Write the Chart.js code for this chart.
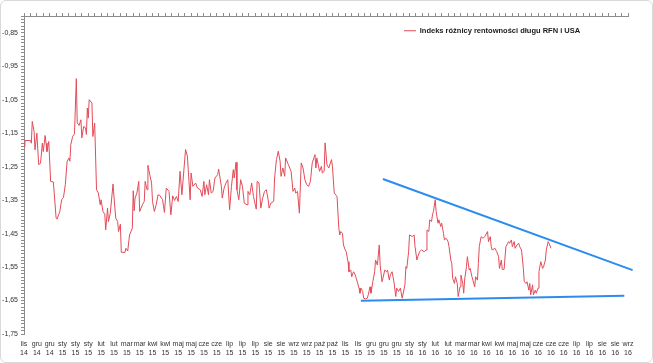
<!DOCTYPE html>
<html>
<head>
<meta charset="utf-8">
<script src="https://cdn.jsdelivr.net/npm/chart.js@4.4.1/dist/chart.umd.min.js"></script>
<style>
  html, body { margin: 0; padding: 0; background: #fff; }
  #wrap { position: relative; width: 653px; height: 363px; }
  #frame { position: absolute; left: 0; top: 0; width: 651px; height: 361px; border: 1px solid #d9d9d9; border-radius: 6px; pointer-events: none; }
</style>
</head>
<body>
<div id="wrap">
  <canvas id="chart" width="653" height="363"></canvas>
  <div id="frame"></div>
</div>
<script>
// x = days since 20 Nov 2014, y = index value
const days = [0,1,7,8,9,11,12,14,16,18,20,21,23,24,25,27,29,32,35,36,39,41,43,45,47,49,50,51,53,55,57,58,60,62,63,65,67,68,69,70,71,74,75,77,79,81,83,84,86,88,89,91,92,94,97,99,100,102,103,105,106,110,111,113,115,118,119,120,121,123,125,126,129,131,132,134,135,137,139,140,142,144,146,148,151,153,155,158,160,162,164,166,168,170,172,176,178,181,182,184,187,189,192,194,196,197,199,201,202,204,206,208,211,212,213,215,216,218,220,222,224,226,228,229,231,232,234,236,238,240,243,244,246,248,250,253,254,256,258,260,262,264,266,267,269,272,273,275,277,279,280,282,284,285,288,291,293,295,296,298,300,302,304,306,308,310,312,314,317,318,319,322,324,325,327,328,330,332,335,336,338,341,343,344,345,347,348,350,351,353,354,356,357,359,361,362,365,366,367,369,370,372,374,375,377,378,380,382,383,385,387,388,390,391,393,395,396,398,399,401,403,405,406,408,410,412,415,416,417,419,420,423,425,426,428,429,431,433,436,438,439,441,442,444,445,446,448,449,451,452,454,455,457,458,460,462,463,465,466,467,469,470,472,473,475,476,478,479,480,482,483,485,486,488,489,491,492,494,495,496,498,500,502,505,506,508,509,510,513,515,517,518,520,521,523,525,526,528,529,531,532,534,535,537,539,540,542,544,545,547,548,550,551,552,554,555,557,558,560,561,563,565,566,568,569,571,572,574];
const values = [-1.190,-1.172,-1.172,-1.180,-1.115,-1.145,-1.200,-1.150,-1.244,-1.240,-1.180,-1.205,-1.157,-1.180,-1.205,-1.175,-1.294,-1.296,-1.404,-1.407,-1.384,-1.349,-1.342,-1.304,-1.234,-1.224,-1.234,-1.184,-1.160,-1.152,-0.987,-1.119,-1.127,-1.110,-1.164,-1.130,-1.134,-1.154,-1.075,-1.105,-1.050,-1.060,-1.160,-1.120,-1.319,-1.329,-1.364,-1.349,-1.384,-1.392,-1.439,-1.374,-1.414,-1.389,-1.302,-1.374,-1.404,-1.414,-1.444,-1.422,-1.506,-1.506,-1.494,-1.502,-1.454,-1.434,-1.322,-1.382,-1.344,-1.329,-1.294,-1.384,-1.364,-1.354,-1.294,-1.319,-1.246,-1.274,-1.299,-1.354,-1.384,-1.364,-1.334,-1.336,-1.349,-1.387,-1.314,-1.324,-1.394,-1.337,-1.351,-1.339,-1.354,-1.264,-1.334,-1.199,-1.219,-1.349,-1.269,-1.309,-1.299,-1.314,-1.319,-1.339,-1.294,-1.334,-1.304,-1.334,-1.289,-1.329,-1.324,-1.284,-1.274,-1.257,-1.274,-1.309,-1.344,-1.314,-1.299,-1.289,-1.379,-1.309,-1.259,-1.284,-1.237,-1.319,-1.349,-1.289,-1.309,-1.359,-1.364,-1.324,-1.334,-1.299,-1.339,-1.377,-1.294,-1.299,-1.374,-1.344,-1.324,-1.319,-1.349,-1.374,-1.359,-1.354,-1.284,-1.229,-1.204,-1.234,-1.279,-1.254,-1.279,-1.224,-1.244,-1.264,-1.324,-1.314,-1.329,-1.324,-1.389,-1.239,-1.254,-1.289,-1.304,-1.309,-1.294,-1.239,-1.214,-1.254,-1.224,-1.264,-1.249,-1.269,-1.264,-1.179,-1.244,-1.254,-1.229,-1.249,-1.329,-1.339,-1.434,-1.454,-1.444,-1.449,-1.484,-1.499,-1.504,-1.534,-1.564,-1.559,-1.579,-1.564,-1.574,-1.584,-1.613,-1.628,-1.613,-1.623,-1.643,-1.645,-1.643,-1.633,-1.609,-1.628,-1.594,-1.564,-1.529,-1.544,-1.484,-1.544,-1.594,-1.584,-1.559,-1.564,-1.559,-1.589,-1.574,-1.564,-1.594,-1.638,-1.613,-1.623,-1.613,-1.643,-1.603,-1.549,-1.554,-1.504,-1.454,-1.459,-1.454,-1.489,-1.529,-1.519,-1.504,-1.499,-1.504,-1.499,-1.439,-1.444,-1.409,-1.414,-1.394,-1.384,-1.349,-1.384,-1.419,-1.409,-1.429,-1.419,-1.449,-1.469,-1.464,-1.474,-1.489,-1.529,-1.539,-1.584,-1.599,-1.579,-1.599,-1.638,-1.609,-1.574,-1.599,-1.628,-1.589,-1.549,-1.519,-1.559,-1.554,-1.579,-1.589,-1.609,-1.579,-1.589,-1.539,-1.489,-1.459,-1.464,-1.459,-1.444,-1.474,-1.459,-1.489,-1.499,-1.494,-1.504,-1.519,-1.554,-1.529,-1.557,-1.557,-1.489,-1.484,-1.474,-1.479,-1.469,-1.489,-1.474,-1.494,-1.484,-1.479,-1.489,-1.499,-1.554,-1.594,-1.599,-1.594,-1.619,-1.599,-1.633,-1.603,-1.633,-1.619,-1.628,-1.613,-1.564,-1.534,-1.554,-1.549,-1.529,-1.499,-1.474,-1.479,-1.494];

// hand-drawn trend lines (start / end)
const upperTrend = [{ x: 391, y: -1.287 }, { x: 663, y: -1.559 }];
const lowerTrend = [{ x: 367, y: -1.651 }, { x: 654, y: -1.636 }];

// category axis labels, one every 14 days
const months = ['lis','gru','gru','sty','sty','sty','lut','lut','mar','mar','kwi','kwi','maj','maj','cze','cze','lip','lip','lip','sie','sie','wrz','wrz','paź','paź','lis','lis','gru','gru','gru','sty','sty','lut','lut','mar','mar','kwi','kwi','maj','maj','cze','cze','cze','lip','lip','sie','sie','wrz'];
const years = ['14','14','14','15','15','15','15','15','15','15','15','15','15','15','15','15','15','15','15','15','15','15','15','15','15','15','15','15','15','15','16','16','16','16','16','16','16','16','16','16','16','16','16','16','16','16','16','16'];
const yLabels = [-1.75, -1.65, -1.55, -1.45, -1.35, -1.25, -1.15, -1.05, -0.95, -0.85];

const seriesName = 'Indeks różnicy rentowności długu RFN i USA';
const lineColor = '#e34b58';
const trendColor = '#2b8cf0';
const axisColor = '#8c8c8c';
const font = "'Liberation Sans', Arial, sans-serif";

const xMax = (months.length - 1) * 14;
const xTicks = months.map((m, i) => ({ value: i * 14 }));
const weekTicks = [];
for (let d = 0; d <= xMax; d += 7) weekTicks.push({ value: d });
const yTicks = [];
for (let k = -175; k <= -80; k++) yTicks.push({ value: k / 100 });

// put the legend inside the plot, top right
const legendPlacer = {
  id: 'legendPlacer',
  afterLayout(chart) {
    const lg = chart.legend;
    lg.left = 404; lg.top = 27;
    lg.right = lg.left + 200; lg.bottom = lg.top + 20;
  }
};

new Chart(document.getElementById('chart'), {
  type: 'line',
  data: {
    datasets: [
      {
        label: seriesName,
        data: days.map((d, i) => ({ x: d, y: values[i] })),
        borderColor: lineColor,
        backgroundColor: lineColor,
        borderWidth: 1,
        pointRadius: 0,
        tension: 0
      },
      {
        label: 'upper',
        data: upperTrend,
        borderColor: trendColor,
        borderWidth: 2,
        pointRadius: 0,
        clip: false
      },
      {
        label: 'lower',
        data: lowerTrend,
        borderColor: trendColor,
        borderWidth: 2,
        pointRadius: 0,
        clip: false
      }
    ]
  },
  options: {
    animation: false,
    responsive: false,
    layout: { padding: { left: 0, right: 25, top: 0, bottom: 0 } },
    plugins: {
      tooltip: { enabled: false },
      legend: {
        position: 'chartArea',
        align: 'start',
        labels: {
          usePointStyle: true,
          pointStyle: 'line',
          pointStyleWidth: 12,
          padding: 0,
          color: '#1a1a1a',
          font: { family: font, size: 7.5, weight: 'bold' },
          filter: item => item.datasetIndex === 0
        }
      }
    },
    scales: {
      x: {
        type: 'linear',
        position: 'bottom',
        min: 0,
        max: xMax,
        afterBuildTicks: axis => { axis.ticks = xTicks.map(t => ({ value: t.value })); },
        afterFit: axis => { axis.height = 29; },
        border: { display: false },
        grid: { display: false, drawTicks: false },
        ticks: {
          autoSkip: false,
          maxRotation: 0,
          padding: 6,
          color: '#333',
          font: { family: font, size: 7, lineHeight: 1.28 },
          callback: (v, i) => [months[i], years[i]]
        }
      },
      x2: {
        type: 'linear',
        position: 'top',
        min: 0,
        max: xMax,
        afterBuildTicks: axis => { axis.ticks = weekTicks.map(t => ({ value: t.value })); },
        afterFit: axis => { axis.height = 16; },
        border: { display: true, color: axisColor, width: 1 },
        grid: { drawOnChartArea: false, drawTicks: true, tickLength: 3, color: axisColor },
        ticks: { display: false }
      },
      y: {
        min: -1.75,
        max: -0.80,
        afterBuildTicks: axis => { axis.ticks = yTicks.map(t => ({ value: t.value })); },
        afterFit: axis => { axis.width = 24; },
        border: { display: true, color: axisColor, width: 1 },
        grid: { drawOnChartArea: false, drawTicks: true, tickLength: 3, color: axisColor },
        ticks: {
          autoSkip: false,
          padding: 3,
          color: '#333',
          font: { family: font, size: 7 },
          callback: v => yLabels.some(t => Math.abs(t - v) < 1e-6) ? v.toFixed(2).replace('.', ',') : ''
        }
      }
    }
  },
  plugins: [legendPlacer]
});
</script>
</body>
</html>
